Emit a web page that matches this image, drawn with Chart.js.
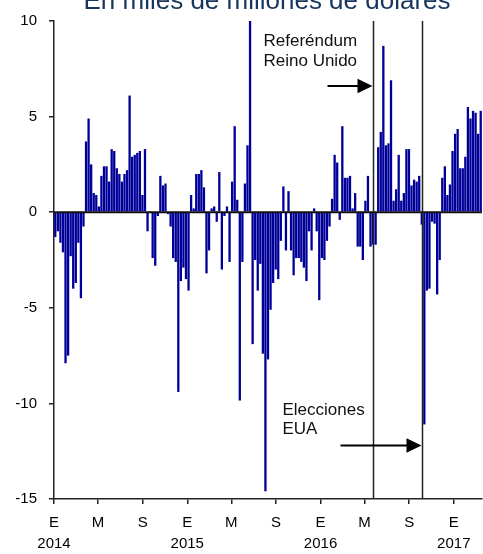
<!DOCTYPE html>
<html><head><meta charset="utf-8">
<script src="https://cdn.jsdelivr.net/npm/chart.js@4.4.0/dist/chart.umd.min.js"></script>
<style>html,body{margin:0;padding:0;background:#fff;overflow:hidden}#wrap{width:483px;height:554px;position:relative}</style>
</head><body><div id="wrap"><canvas id="c" width="483" height="554"></canvas></div>
<script>
// ---------- data ----------
const titleText = 'En miles de millones de dólares';
const yMin = -15, yMax = 10, yStep = 5;
const totalWeeks = 167;
const xTickWeeks = [0, 17.2, 34.6, 52, 69.2, 86.6, 104, 121.2, 138.6, 156];
const xTickLabels = [['E','2014'],['M'],['S'],['E','2015'],['M'],['S'],['E','2016'],['M'],['S'],['E','2017']];

// weekly flows, billions of dollars
const flows2014 = [-1.3,-1.0,-1.6,-2.1,-7.9,-7.5,-2.3,-4.0,-3.7,-1.6,
  -4.5,-0.75,3.7,4.9,2.5,1.0,0.9,0.3,1.9,2.4,
  2.4,1.6,3.3,3.2,2.3,2.0,1.6,2.0,2.2,6.1,
  2.9,3.0,3.1,3.2,0.9,3.3,-1.0,0.05,-2.4,-2.8,
  -0.2,1.9,1.4,1.5,-0.1,-0.75,-2.4,-2.6,-9.4,-3.6,
  -2.9,-3.5];
const flows2015 = [-4.1,0.9,0.2,2.0,2.0,2.2,1.3,-3.2,-2.0,0.2,
  0.3,-0.5,2.1,-3.0,-0.2,0.3,-2.6,1.6,4.5,0.65,
  -9.85,-2.6,1.5,3.5,10.0,-6.9,-2.5,-4.1,-2.7,-7.4,
  -14.6,-7.7,-5.1,-3.7,-3.0,-3.5,-1.5,1.35,-2.0,1.1,
  -2.0,-3.3,-2.4,-2.4,-2.6,-2.9,-3.6,-1.0,-2.0,0.2,
  -1.0,-4.6];
const flows2016 = [-2.4,-2.5,-1.5,-0.75,0.7,3.0,2.6,-0.4,4.5,1.8,
  1.8,1.9,0.2,1.0,-1.8,-1.8,-2.5,0.6,1.9,-1.8,
  -1.7,-1.7,3.4,4.2,8.7,3.5,3.6,6.9,0.6,1.2,
  3.0,0.6,1.0,3.3,3.3,1.4,1.7,1.6,1.9,-0.65,
  -11.1,-4.1,-4.0,-0.5,-0.6,-4.3,-2.5,1.8,2.4,0.9,
  1.45,3.2];
const flows2017 = [4.1,4.35,2.3,2.3,2.9,5.5,4.9,5.3,5.2,4.1,5.3];

const eventWeeks = [124.5, 143.4];
const eventLabels = [['Referéndum','Reino Unido'], ['Elecciones','EUA']];
const eventLabelValues = [[8.95, 7.9], [-10.35, -11.33]];
const eventArrowValues = [6.6, -12.2];

// ---------- build ----------
const flows = [].concat(flows2014, flows2015, flows2016, flows2017);
const weekLabels = flows.map((v, i) => String(i));

const FONT = "'Liberation Sans', Arial, Helvetica, sans-serif";
Chart.defaults.font.family = FONT;
Chart.defaults.color = '#000';

const overlay = {
  id: 'overlay',
  afterDatasetsDraw(chart) {
    const {ctx, chartArea: a, scales: {xt, y}} = chart;
    ctx.save();
    const y0 = y.getPixelForValue(0);
    ctx.strokeStyle = '#111'; ctx.lineWidth = 2;
    ctx.beginPath(); ctx.moveTo(a.left, y0); ctx.lineTo(a.right, y0); ctx.stroke();
    const offsets = [{text: -110, arrow: -46}, {text: -140, arrow: -82}];
    eventWeeks.forEach((w, k) => {
      const px = Math.round(xt.getPixelForValue(w)) + 0.5;
      ctx.strokeStyle = '#222'; ctx.lineWidth = 1.5;
      ctx.beginPath(); ctx.moveTo(px, a.top); ctx.lineTo(px, a.bottom); ctx.stroke();
      ctx.fillStyle = '#111';
      ctx.font = '17px ' + FONT;
      ctx.textAlign = 'left'; ctx.textBaseline = 'middle';
      eventLabels[k].forEach((t, j) => {
        ctx.fillText(t, px + offsets[k].text, y.getPixelForValue(eventLabelValues[k][j]));
      });
      const ay = y.getPixelForValue(eventArrowValues[k]);
      const tip = px - 1, head = 15;
      ctx.strokeStyle = '#000'; ctx.lineWidth = 2;
      ctx.beginPath(); ctx.moveTo(px + offsets[k].arrow, ay); ctx.lineTo(tip - head + 2, ay); ctx.stroke();
      ctx.fillStyle = '#000';
      ctx.beginPath(); ctx.moveTo(tip, ay); ctx.lineTo(tip - head, ay - 7.3); ctx.lineTo(tip - head, ay + 7.3); ctx.closePath(); ctx.fill();
    });
    ctx.restore();
  },
  afterDraw(chart) {
    const {ctx, chartArea: a} = chart;
    ctx.save();
    ctx.font = '26px ' + FONT;
    ctx.fillStyle = '#17365d';
    ctx.textAlign = 'center'; ctx.textBaseline = 'alphabetic';
    ctx.fillText(titleText, (a.left + a.right) / 2 - 1, 9);
    ctx.restore();
  }
};

new Chart(document.getElementById('c'), {
  type: 'bar',
  data: {
    labels: weekLabels,
    datasets: [{
      data: flows,
      xAxisID: 'x',
      backgroundColor: '#000099',
      borderWidth: 0,
      barPercentage: 0.9,
      categoryPercentage: 1.0
    }]
  },
  options: {
    responsive: false,
    animation: false,
    devicePixelRatio: 1,
    layout: {padding: {top: 17, right: 1, left: 0, bottom: 0}},
    plugins: {legend: {display: false}, tooltip: {enabled: false}, title: {display: false}},
    scales: {
      x: {
        type: 'category',
        position: 'bottom',
        offset: true,
        display: false
      },
      xt: {
        type: 'linear',
        position: 'bottom',
        offset: false,
        min: 0, max: totalWeeks,
        afterFit(s) { s.height = 55; },
        afterBuildTicks(s) { s.ticks = xTickWeeks.map(v => ({value: v})); },
        ticks: {
          autoSkip: false, maxRotation: 0, minRotation: 0, padding: 8,
          font: {size: 15, lineHeight: 1.43}, color: '#000',
          callback: (v, i) => xTickLabels[i]
        },
        grid: {offset: false, drawOnChartArea: false, drawTicks: true, tickLength: 5, color: '#222', lineWidth: 1.5},
        border: {display: true, color: '#222', width: 1.5}
      },
      y: {
        min: yMin, max: yMax,
        afterFit(s) { s.width = 54; },
        ticks: {stepSize: yStep, padding: 12, font: {size: 15}, color: '#000'},
        grid: {drawOnChartArea: false, drawTicks: true, tickLength: 5, color: '#222', lineWidth: 1.5},
        border: {display: true, color: '#222', width: 1.5}
      }
    }
  },
  plugins: [overlay]
});
</script>
</body></html>
